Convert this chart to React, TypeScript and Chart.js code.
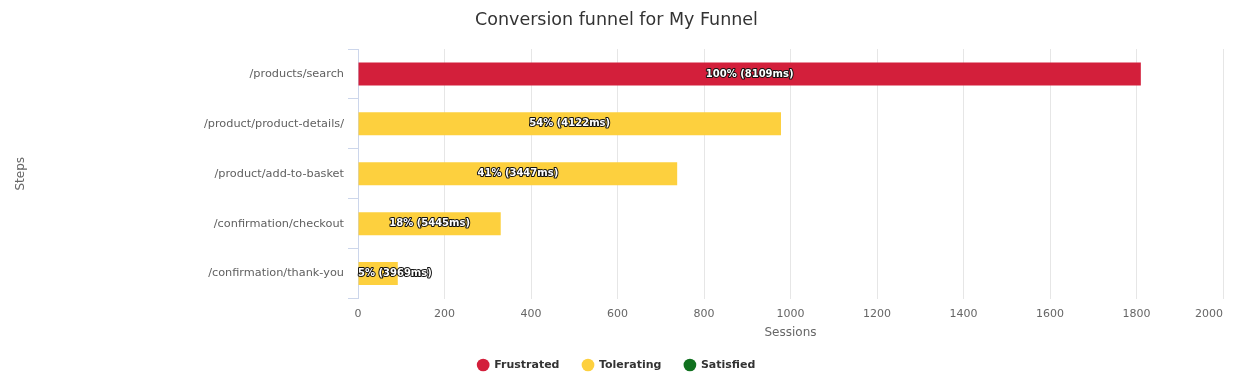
import React, { useEffect, useRef } from "react";
import { Chart, registerables } from "chart.js";

Chart.register(...registerables);

const chartTitle = "Conversion funnel for My Funnel";
const steps = [
  "/products/search",
  "/product/product-details/",
  "/product/add-to-basket",
  "/confirmation/checkout",
  "/confirmation/thank-you",
];
const frustrated = [1810, 0, 0, 0, 0];
const tolerating = [0, 978, 738, 330, 92];
const satisfied = [0, 0, 0, 0, 0];
const percentLabels = ["100%", "54%", "41%", "18%", "5%"];
const durationsMs = [8109, 4122, 3447, 5445, 3969];
const xMin = 0;
const xMax = 2000;
const xStep = 200;

const FONT = "'DejaVu Sans', 'Lucida Grande', Arial, sans-serif";
const RED = "#d31f3b";
const YELLOW = "#fdd03e";
const GREEN = "#10711f";

const labelPlugin = {
  id: "funnelLabels",
  afterDatasetsDraw(chart: any) {
    const ctx = chart.ctx;
    const area = chart.chartArea;
    ctx.save();
    ctx.font = `bold 10px ${FONT}`;
    ctx.textBaseline = "middle";
    ctx.textAlign = "left";
    ctx.lineJoin = "round";
    steps.forEach((_, i) => {
      let el: any = null;
      chart.data.datasets.forEach((ds: any, di: number) => {
        if (ds.data[i] > 0) el = chart.getDatasetMeta(di).data[i];
      });
      if (!el) return;
      const { x, y, base } = el.getProps(["x", "y", "base"], true);
      const text = `${percentLabels[i]} (${durationsMs[i]}ms)`;
      const w = ctx.measureText(text).width;
      let tx = (x + base) / 2 - w / 2;
      if (tx < area.left) tx = area.left;
      ctx.lineWidth = 2;
      ctx.strokeStyle = "#111";
      ctx.strokeText(text, tx, y);
      ctx.fillStyle = "#fff";
      ctx.fillText(text, tx, y);
    });
    ctx.restore();
  },
};

const xLabelPlugin = {
  id: "xLabels",
  afterDraw(chart: any) {
    const ctx = chart.ctx;
    const sc = chart.scales.x;
    ctx.save();
    ctx.font = `11px ${FONT}`;
    ctx.fillStyle = "#666";
    ctx.textBaseline = "middle";
    sc.ticks.forEach((t: any) => {
      const px = sc.getPixelForValue(t.value);
      const label = String(t.value);
      const w = ctx.measureText(label).width;
      ctx.textAlign = px + w / 2 > chart.width - 2 ? "right" : "center";
      ctx.fillText(label, px, sc.top + 15.5);
    });
    ctx.restore();
  },
};

export default function App() {
  const ref = useRef<HTMLCanvasElement>(null);

  useEffect(() => {
    if (!ref.current) return;
    Chart.defaults.font.family = FONT;
    const chart = new Chart(ref.current, {
      type: "bar",
      data: {
        labels: steps,
        datasets: [
          { label: "Frustrated", data: frustrated, backgroundColor: RED, borderColor: RED, borderWidth: 0 },
          { label: "Tolerating", data: tolerating, backgroundColor: YELLOW, borderColor: YELLOW, borderWidth: 0 },
          { label: "Satisfied", data: satisfied, backgroundColor: GREEN, borderColor: GREEN, borderWidth: 0 },
        ],
      },
      options: {
        indexAxis: "y",
        responsive: false,
        animation: false,
        categoryPercentage: 1,
        barPercentage: 0.46,
        layout: { padding: { top: 0, left: 0, right: 0, bottom: 9.5 } },
        scales: {
          x: {
            stacked: true,
            min: xMin,
            max: xMax,
            ticks: { stepSize: xStep, color: "rgba(0,0,0,0)", padding: 9, font: { size: 11 } },
            grid: {
              color: (c: any) => (c.tick && c.tick.value === 0 ? "rgba(0,0,0,0)" : "#e6e6e6"),
              drawTicks: false,
            },
            border: { display: false },
            title: {
              display: true,
              text: "Sessions",
              color: "#666",
              font: { size: 12 },
              padding: { top: 0, bottom: -3.5 },
            },
            afterFit: (s: any) => {
              s.height = 38;
              s.paddingLeft = 0;
              s.paddingRight = 10;
            },
          },
          y: {
            stacked: true,
            grid: {
              display: true,
              drawOnChartArea: false,
              drawTicks: true,
              tickLength: 10,
              color: "#ccd6eb",
              offset: true,
            },
            border: { display: true, color: "#ccd6eb", width: 1 },
            ticks: { color: "#606060", font: { size: 11.3 }, padding: 4 },
            title: {
              display: true,
              text: "Steps",
              color: "#666",
              font: { size: 12 },
              padding: { top: 13.5, bottom: 0 },
            },
            afterFit: (s: any) => {
              s.width = 358;
            },
          },
        },
        plugins: {
          title: {
            display: true,
            text: chartTitle,
            color: "#333",
            font: { size: 17.5, weight: "normal" },
            padding: { top: 9.5, bottom: 18.5 },
          },
          legend: {
            position: "bottom",
            labels: {
              usePointStyle: true,
              pointStyle: "circle",
              boxWidth: 12,
              boxHeight: 9,
              padding: 23,
              color: "#333",
              font: { size: 11, weight: "bold" },
            },
          },
          tooltip: { enabled: false },
        },
      },
      plugins: [labelPlugin, xLabelPlugin],
    } as any);
    return () => chart.destroy();
  }, []);

  return (
    <div style={{ position: "absolute", left: 0, top: 0, width: 1233, height: 390, background: "#fff" }}>
      <canvas ref={ref} width={1233} height={390} style={{ display: "block" }} />
    </div>
  );
}
